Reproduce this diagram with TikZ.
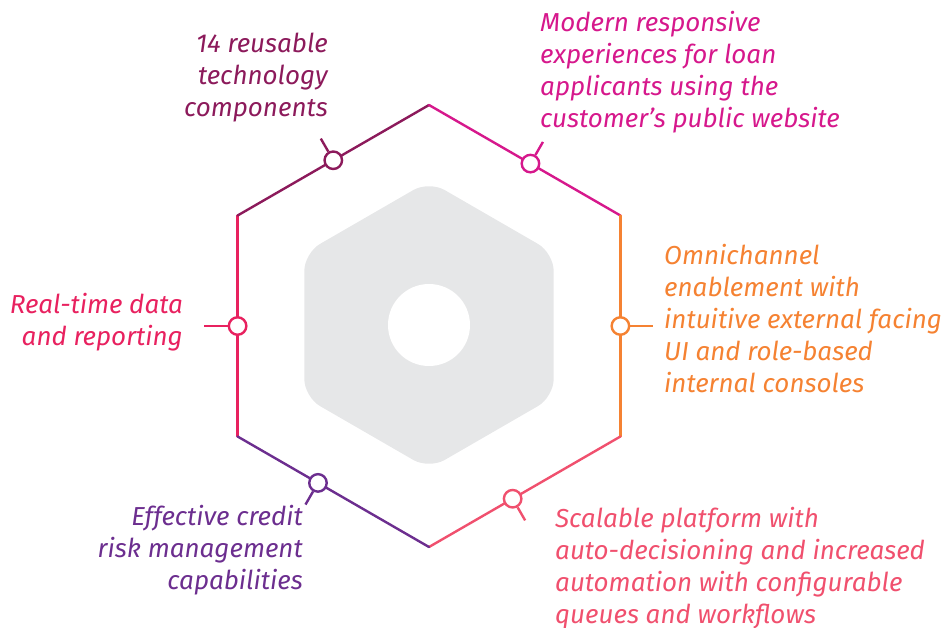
\documentclass[tikz,border=0pt]{standalone}
\usepackage{fontspec}
\setmainfont{Fira Sans}
\usetikzlibrary{calc}
\definecolor{cA}{HTML}{8C1A5B}
\definecolor{cB}{HTML}{D6188C}
\definecolor{cC}{HTML}{F58232}
\definecolor{cD}{HTML}{F0506E}
\definecolor{cE}{HTML}{6C2E8F}
\definecolor{cF}{HTML}{E8215F}
\definecolor{hexgrey}{HTML}{E6E7E8}
\begin{document}
\begin{tikzpicture}[x=1pt,y=-1pt,
  edge/.style={line width=2.4pt,line cap=round},
  dot/.style={circle,draw,fill=white,line width=2.4pt,minimum size=17.5pt,inner sep=0pt},
  tickline/.style={line width=2.4pt},
  lbl/.style={inner sep=0pt,font=\fontsize{26}{32}\selectfont\itshape,execute at begin node=\strut}]
\useasboundingbox (0,0) rectangle (948,627);
% outer hexagon corners
\coordinate (T) at (429,105);
\coordinate (UR) at (620.4,215.5);
\coordinate (LR) at (620.4,436.5);
\coordinate (B) at (429,547);
\coordinate (LL) at (237.6,436.5);
\coordinate (UL) at (237.6,215.5);
% inner grey hexagon with hole
\fill[hexgrey,rounded corners=18pt] (429,181) -- (553.7,253) -- (553.7,397) -- (429,469) -- (304.3,397) -- (304.3,253) -- cycle;
\fill[white] (429,325) circle (41);
% edges
\draw[edge,cF] (UL) -- (LL);
\draw[edge,cA] (UL) -- (T);
\draw[edge,cB] (T) -- (UR);
\draw[edge,cC] (UR) -- (LR);
\draw[edge,cD] (LR) -- (B);
\draw[edge,cE] (B) -- (LL);
% dots
\node[dot,draw=cA] (d1) at ($(UL)!0.5!(T)$) {};
\node[dot,draw=cB] (d2) at ($(T)!0.53!(UR)$) {};
\node[dot,draw=cC] (d3) at ($(UR)!0.5!(LR)$) {};
\node[dot,draw=cD] (d4) at ($(B)!0.437!(LR)$) {};
\node[dot,draw=cE] (d5) at ($(LL)!0.42!(B)$) {};
\node[dot,draw=cF] (d6) at ($(UL)!0.5!(LL)$) {};
% tick ends
\coordinate (t1) at ($(d1.center)+(-12.5,-21.65)$);
\coordinate (t2) at ($(d2.center)+(12.5,-21.65)$);
\coordinate (t3) at ($(d3.center)+(33,0)$);
\coordinate (t4) at ($(d4.center)+(12.5,21.65)$);
\coordinate (t5) at ($(d5.center)+(-12.5,21.65)$);
\coordinate (t6) at ($(d6.center)+(-34,0)$);
\draw[tickline,cA] (d1) -- (t1);
\draw[tickline,cB] (d2) -- (t2);
\draw[tickline,cC] (d3) -- (t3);
\draw[tickline,cD] (d4) -- (t4);
\draw[tickline,cE] (d5) -- (t5);
\draw[tickline,cF] (d6) -- (t6);
% labels
\node[lbl,text=cA,align=right,anchor=north east] (l1) at (328,32.6) {14 reusable\\technology\\components};
\node[lbl,text=cB,align=left,anchor=north west] (l2) at (540,11.1) {Modern responsive\\experiences for loan\\applicants using the\\customer’s public website};
\node[lbl,text=cC,align=left,anchor=north west] (l3) at (664,244.1) {Omnichannel\\enablement with\\intuitive external facing\\UI and role-based\\internal consoles};
\node[lbl,text=cD,align=left,anchor=north west] (l4) at (555,507.1) {Scalable platform with\\auto-decisioning and increased\\automation with configurable\\queues and workflows};
\node[lbl,text=cE,align=right,anchor=north east] (l5) at (303,505.1) {Effective credit\\risk management\\capabilities};
\node[lbl,text=cF,align=right,anchor=north east] (l6) at (183,292.6) {Real-time data\\and reporting};
\end{tikzpicture}
\end{document}
